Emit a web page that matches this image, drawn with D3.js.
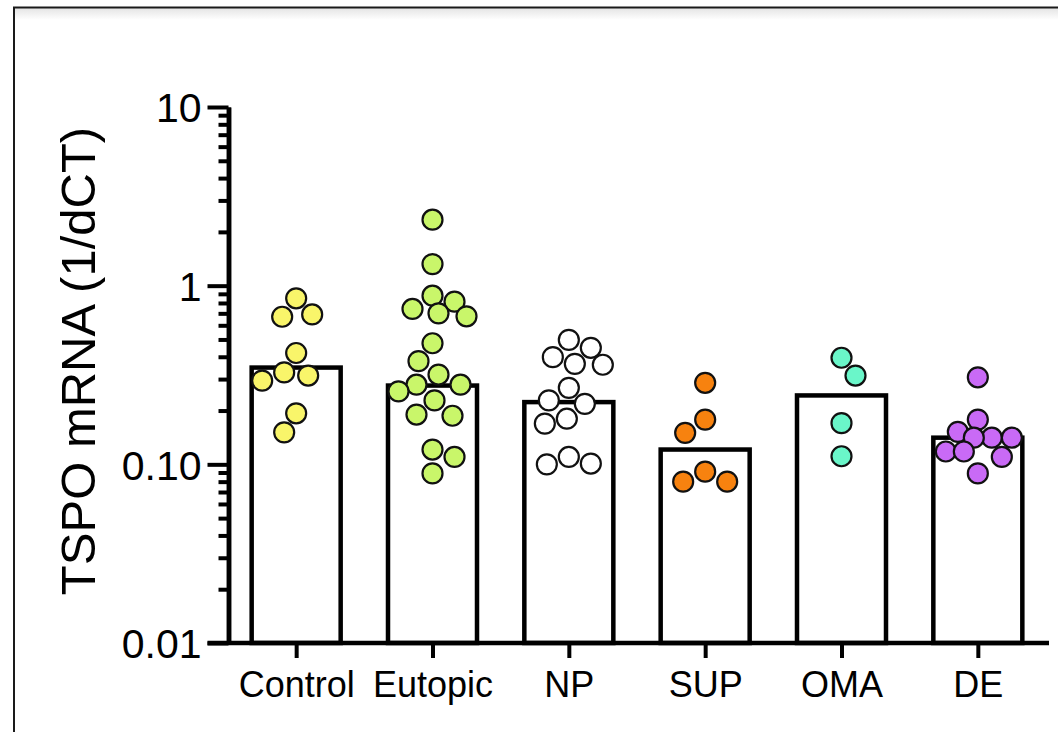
<!DOCTYPE html>
<html>
<head>
<meta charset="utf-8">
<title>TSPO mRNA</title>
<style>
  body { margin: 0; background: #fff; }
  svg text { font-family: "Liberation Sans", Arial, sans-serif; fill: #000; }
</style>
</head>
<body>
<div id="chart"></div>
<script src="https://d3js.org/d3.v7.min.js"></script>
<script>
// data
var categories = ['Control', 'Eutopic', 'NP', 'SUP', 'OMA', 'DE'];
var barValues = [0.348, 0.276, 0.223, 0.121, 0.243, 0.141];
var controlValues = [0.85, 0.69, 0.67, 0.42, 0.327, 0.314, 0.294, 0.193, 0.151];
var eutopicValues = [2.34, 1.32, 0.879, 0.814, 0.741, 0.70, 0.674, 0.476, 0.378, 0.318,
                     0.279, 0.279, 0.256, 0.228, 0.19, 0.187, 0.121, 0.11, 0.089];
var npValues = [0.497, 0.449, 0.398, 0.365, 0.361, 0.268, 0.228, 0.218, 0.18, 0.169, 0.11, 0.101, 0.1];
var supValues = [0.286, 0.178, 0.15, 0.091, 0.08, 0.08];
var omaValues = [0.395, 0.314, 0.17, 0.111];
var deValues = [0.307, 0.178, 0.152, 0.141, 0.141, 0.141, 0.118, 0.118, 0.11, 0.089];
var yTickValues = [0.01, 0.1, 1, 10];
var yTickLabels = ['0.01', '0.10', '1', '10'];

var groupValues = [controlValues, eutopicValues, npValues, supValues, omaValues, deValues];
var dotColors = ['#f9f56a', '#c9f66a', '#ffffff', '#f7820f', '#6af6c9', '#c96af6'];

var width = 1058, height = 732;
var svg = d3.select('#chart').append('svg')
  .attr('width', width)
  .attr('height', height);

// page frame with a faint shadow under the top edge
var grad = svg.append('defs').append('linearGradient')
  .attr('id', 'topShade').attr('x1', 0).attr('y1', 0).attr('x2', 0).attr('y2', 1);
grad.append('stop').attr('offset', '0%').attr('stop-color', '#e4e4e4');
grad.append('stop').attr('offset', '100%').attr('stop-color', '#ffffff');
svg.append('rect')
  .attr('x', 15).attr('y', 8).attr('width', width).attr('height', 12)
  .attr('fill', 'url(#topShade)');
svg.append('path')
  .attr('d', 'M14,' + height + 'V7.5H' + width)
  .attr('fill', 'none').attr('stroke', '#1a1a1a').attr('stroke-width', 2);

var y = d3.scaleLog().domain([0.01, 10]).range([643, 107]);
var x = d3.scalePoint().domain(categories).range([228, 1046]).padding(0.5);
var barW = 89;
var axisX = 228.5;

// bars
svg.append('g').selectAll('rect')
  .data(categories)
  .enter()
  .append('rect')
  .attr('x', function(d) { return x(d) - barW / 2; })
  .attr('y', function(d, i) { return y(barValues[i]); })
  .attr('width', barW)
  .attr('height', function(d, i) { return y(0.01) - y(barValues[i]); })
  .attr('fill', '#fff')
  .attr('stroke', '#000')
  .attr('stroke-width', 4.5);

// y axis: minor then major ticks
var minorTicks = y.ticks().filter(function(t) {
  return Math.abs(Math.log10(t) - Math.round(Math.log10(t))) > 1e-6;
});
var yMinor = svg.append('g')
  .attr('transform', 'translate(' + axisX + ',0)')
  .call(d3.axisLeft(y).tickValues(minorTicks).tickSize(10).tickSizeOuter(0).tickFormat(''));
var yMajor = svg.append('g')
  .attr('transform', 'translate(' + axisX + ',0)')
  .call(d3.axisLeft(y).tickValues(yTickValues).tickSize(21).tickSizeOuter(0).tickPadding(6)
    .tickFormat(function(d, i) { return yTickLabels[i]; }));
[yMinor, yMajor].forEach(function(g) {
  g.selectAll('line').attr('stroke', '#000').attr('stroke-width', 4);
  g.select('.domain').attr('stroke', '#000').attr('stroke-width', 4.5);
});
yMajor.selectAll('text')
  .style('font-size', '41px')
  .attr('dy', '0.36em');

// x axis
var xAxis = svg.append('g')
  .attr('transform', 'translate(0,' + y(0.01) + ')')
  .call(d3.axisBottom(x).tickSize(15).tickPadding(13));
xAxis.select('.domain').remove();
xAxis.selectAll('line').attr('stroke', '#000').attr('stroke-width', 4);
xAxis.selectAll('text').style('font-size', '36px');
svg.append('line')
  .attr('x1', axisX - 21).attr('x2', 1049)
  .attr('y1', y(0.01)).attr('y2', y(0.01))
  .attr('stroke', '#000').attr('stroke-width', 4.5);

// y title
svg.append('text')
  .attr('transform', 'translate(95,361) rotate(-90)')
  .attr('text-anchor', 'middle')
  .style('font-size', '49px')
  .text('TSPO mRNA (1/dCT)');

// scatter: simple swarm so dots spread across the column
var r = 10, minDist = 22.5, maxOff = 35;
function swarm(vals, cx) {
  var placed = [];
  vals.slice().sort(d3.descending).forEach(function(v, n) {
    var py = y(v);
    var cands = [0];
    for (var k = 2; k <= maxOff; k += 2) {
      if (n % 2) cands.push(k, -k); else cands.push(-k, k);
    }
    var pick = null, best = null, bestD = -1;
    cands.forEach(function(off) {
      if (pick !== null) return;
      var md = placed.length ? d3.min(placed, function(p) {
        return Math.hypot(p.x - (cx + off), p.y - py);
      }) : Infinity;
      if (md >= minDist) pick = off;
      else if (md > bestD) { bestD = md; best = off; }
    });
    placed.push({ x: cx + (pick !== null ? pick : best), y: py });
  });
  return placed;
}

groupValues.forEach(function(vals, i) {
  svg.append('g').selectAll('circle')
    .data(swarm(vals, x(categories[i])))
    .enter()
    .append('circle')
    .attr('cx', function(d) { return d.x; })
    .attr('cy', function(d) { return d.y; })
    .attr('r', r)
    .attr('fill', dotColors[i])
    .attr('stroke', '#111')
    .attr('stroke-width', 2.2);
});
</script>
</body>
</html>
